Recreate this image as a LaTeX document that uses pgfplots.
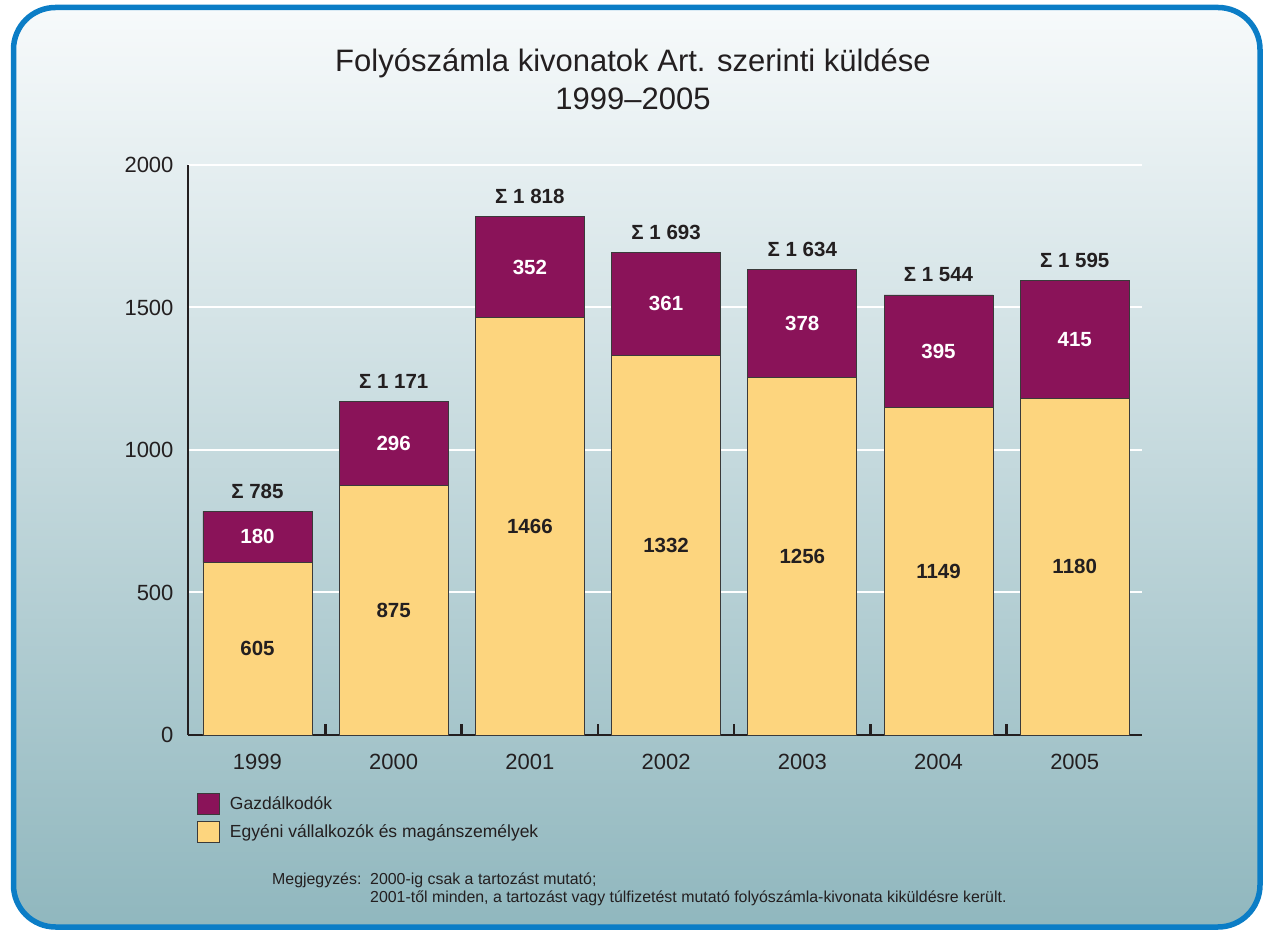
\documentclass[border=0pt]{standalone}
\usepackage{fontspec}
\setmainfont{Liberation Sans}
\usepackage{pgfplots}
\pgfplotsset{compat=1.18}
\definecolor{bordblue}{HTML}{0B7DC6}
\definecolor{bgtop}{HTML}{F7FAFB}
\definecolor{bgbot}{HTML}{90B7BE}
\definecolor{gazd}{HTML}{8A1359}
\definecolor{egyeni}{HTML}{FDD57E}
\definecolor{txt}{HTML}{231F20}
\definecolor{edge}{HTML}{3A3A3A}
\tikzset{
  seglab/.style={font=\bfseries\fontsize{20.5}{24}\selectfont},
  sumlab/.style={font=\bfseries\fontsize{20.5}{24}\selectfont, text=txt, anchor=base, yshift=13pt},
  notelab/.style={font=\fontsize{15.9}{18}\selectfont, text=txt, anchor=base west, inner sep=0pt},
}

\begin{document}
\begin{tikzpicture}[x=1pt,y=1pt]
\useasboundingbox (0,0) rectangle (1264,932);
\shade[top color=bgtop, bottom color=bgbot, rounded corners=42pt] (13.5,5) rectangle (1260,924.5);
\draw[bordblue, line width=5.5pt, rounded corners=42pt] (13.5,5) rectangle (1260,924.5);

\node[txt, font=\fontsize{31}{38}\selectfont, align=center] at (633,853) {Folyószámla kivonatok Art. szerinti küldése\\1999–2005};

\begin{axis}[
  at={(188pt,197pt)}, anchor=south west,
  scale only axis, width=954pt, height=570pt,
  xmin=-0.51, xmax=6.494, ymin=0, ymax=2000,
  ybar stacked, bar width=109pt,
  axis x line*=bottom, axis y line*=left,
  axis line style={-, line width=2.6pt, draw=txt},
  major tick length=0pt,
  ytick={0,500,1000,1500,2000},
  ymajorgrids, grid style={white, line width=2pt},
  xtick={0,1,2,3,4,5,6},
  xticklabels={1999,2000,2001,2002,2003,2004,2005},
  extra x ticks={0.5,1.5,2.5,3.5,4.5,5.5},
  extra x tick labels={},
  extra x tick style={major tick length=11pt, tick align=inside, grid=none,
    tick style={draw=txt, line width=2.6pt}},
  /pgf/number format/assume math mode=true,
  /pgf/number format/1000 sep={},
  tick label style={font=\fontsize{22}{26}\selectfont, text=txt},
  yticklabel style={xshift=-11pt},
  xticklabel style={yshift=-16pt},
  clip=false,
  reverse legend,
  legend style={at={(0.0094,-0.1018)}, anchor=north west, draw=none, fill=none,
    inner sep=0pt, outer sep=0pt, row sep=6pt, column sep=8pt,
    font=\fontsize{17.5}{21}\selectfont, text=txt,
    legend cell align=left},
]
\addplot[fill=egyeni, draw=edge, line width=0.9pt,
  legend image code/.code={\draw[fill=egyeni, draw=edge, line width=1pt] (0pt,-10.5pt) rectangle (22pt,10.5pt);}]
  coordinates {(0,605) (1,875) (2,1466) (3,1332) (4,1256) (5,1149) (6,1180)};
\addplot[fill=gazd, draw=edge, line width=0.9pt,
  legend image code/.code={\draw[fill=gazd, draw=edge, line width=1pt] (0pt,-10.5pt) rectangle (22pt,10.5pt);}]
  coordinates {(0,180) (1,296) (2,352) (3,361) (4,378) (5,395) (6,415)};
\legend{Egyéni vállalkozók és magánszemélyek, Gazdálkodók}

\coordinate (e0) at (axis cs:0,302.5);
\coordinate (e1) at (axis cs:1,437.5);
\coordinate (e2) at (axis cs:2,733);
\coordinate (e3) at (axis cs:3,666);
\coordinate (e4) at (axis cs:4,628);
\coordinate (e5) at (axis cs:5,574.5);
\coordinate (e6) at (axis cs:6,590);
\coordinate (g0) at (axis cs:0,695);
\coordinate (g1) at (axis cs:1,1023);
\coordinate (g2) at (axis cs:2,1642);
\coordinate (g3) at (axis cs:3,1512.5);
\coordinate (g4) at (axis cs:4,1445);
\coordinate (g5) at (axis cs:5,1346.5);
\coordinate (g6) at (axis cs:6,1387.5);
\coordinate (t0) at (axis cs:0,785);
\coordinate (t1) at (axis cs:1,1171);
\coordinate (t2) at (axis cs:2,1818);
\coordinate (t3) at (axis cs:3,1693);
\coordinate (t4) at (axis cs:4,1634);
\coordinate (t5) at (axis cs:5,1544);
\coordinate (t6) at (axis cs:6,1595);
\end{axis}

\node[seglab, text=txt] at (e0) {605};
\node[seglab, text=txt] at (e1) {875};
\node[seglab, text=txt] at (e2) {1466};
\node[seglab, text=txt] at (e3) {1332};
\node[seglab, text=txt] at (e4) {1256};
\node[seglab, text=txt] at (e5) {1149};
\node[seglab, text=txt] at (e6) {1180};
\node[seglab, text=white] at (g0) {180};
\node[seglab, text=white] at (g1) {296};
\node[seglab, text=white] at (g2) {352};
\node[seglab, text=white] at (g3) {361};
\node[seglab, text=white] at (g4) {378};
\node[seglab, text=white] at (g5) {395};
\node[seglab, text=white] at (g6) {415};
\node[sumlab] at (t0) {Σ 785};
\node[sumlab] at (t1) {Σ 1 171};
\node[sumlab] at (t2) {Σ 1 818};
\node[sumlab] at (t3) {Σ 1 693};
\node[sumlab] at (t4) {Σ 1 634};
\node[sumlab] at (t5) {Σ 1 544};
\node[sumlab] at (t6) {Σ 1 595};

\node[notelab] at (272,47) {Megjegyzés:};
\node[notelab] at (370,47) {2000-ig csak a tartozást mutató;};
\node[notelab] at (370,30) {2001-től minden, a tartozást vagy túlfizetést mutató folyószámla-kivonata kiküldésre került.};
\end{tikzpicture}
\end{document}
